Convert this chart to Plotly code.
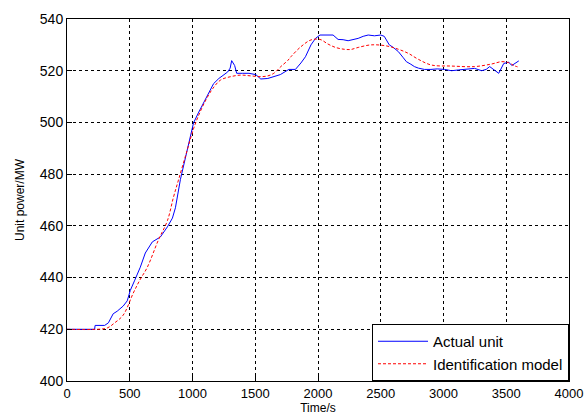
import plotly.graph_objects as go

# Actual unit (blue)
t_actual = [0, 220, 224, 300, 330, 368, 400, 448, 480, 504, 540, 584, 624, 680, 744, 800, 840, 864, 904,
            950, 1008, 1050, 1088, 1130, 1168, 1210, 1248, 1280, 1300, 1312, 1336, 1352, 1400, 1450, 1504,
            1544, 1600, 1648, 1700, 1768, 1820, 1864, 1900, 1944, 1980, 2016, 2080, 2120, 2160, 2200, 2240,
            2280, 2320, 2360, 2400, 2450, 2500, 2528, 2568, 2600, 2640, 2680, 2704, 2740, 2768, 2800, 2848,
            2900, 2950, 3008, 3064, 3120, 3180, 3248, 3304, 3340, 3368, 3400, 3440, 3480, 3520, 3544, 3570, 3600]
p_actual = [420, 420, 421.5, 421.5, 422.5, 426, 427, 429, 431, 435, 439, 444, 449.5, 453.8, 455.7, 459.6, 463, 467, 478,
            488, 499.8, 504, 507.5, 511, 515, 517, 518.3, 519.5, 521, 523.9, 522, 519, 519, 519, 518.5,
            516.8, 517, 517.7, 518.5, 520.5, 520.5, 523, 525.4, 530, 532.5, 533.8, 533.8, 533.8, 532.1, 532, 531.6,
            532, 532.5, 533.3, 533.8, 533.5, 533.8, 533.3, 530, 529, 527.4, 525, 523.5, 522.5, 521.6, 521, 520.5,
            520.5, 520.7, 520.5, 520, 520.3, 520.5, 520.9, 520, 520.5, 521.6, 520.3, 519, 522.8, 523.3, 522, 523, 523.8]

# Identification model (red dashed)
t_model = [0, 240, 320, 380, 448, 528, 580, 640, 728, 800, 848, 888, 950, 1008, 1060, 1110, 1160, 1224, 1304,
           1384, 1464, 1544, 1600, 1648, 1704, 1760, 1784, 1864, 1944, 2016, 2080, 2140, 2208, 2260, 2320,
           2424, 2544, 2640, 2720, 2800, 2904, 3064, 3248, 3384, 3464, 3520, 3560, 3590]
p_model = [420, 420, 420.5, 422.5, 425.5, 434, 439, 444, 454.5, 462, 471, 477.7, 488, 497.5, 504, 509, 513, 516.4, 517.7,
           518.3, 518, 517.7, 518, 519, 521.6, 524, 525.4, 529.3, 531.9, 532.1, 530.3, 529, 528.3, 528.2, 529,
           530, 529.6, 528.3, 526.7, 524.4, 522.2, 521.8, 521.6, 522.6, 523.5, 523.1, 522, 521.5]

x_ticks = [0, 500, 1000, 1500, 2000, 2500, 3000, 3500, 4000]
y_ticks = [400, 420, 440, 460, 480, 500, 520, 540]

FONT = "Liberation Sans, Arial"

fig = go.Figure()
fig.add_trace(go.Scatter(x=t_actual, y=p_actual, mode="lines", name="Actual unit",
                         line=dict(color="#0000ff", width=1)))
fig.add_trace(go.Scatter(x=t_model, y=p_model, mode="lines", name="Identification model",
                         line=dict(color="#ff0000", width=1, dash="3px,2px"), line_shape="spline"))

axis_common = dict(showline=True, linecolor="black", linewidth=1, mirror=True,
                   ticks="inside", ticklen=5, tickcolor="black", automargin=True,
                   showgrid=True, gridcolor="black", gridwidth=1, griddash="3px,3px",
                   zeroline=False, ticklabeloverflow="allow")

fig.update_xaxes(range=[0, 4000], tickvals=x_ticks,
                 tickfont=dict(family=FONT, size=13, color="black"),
                 title=dict(text="Time/s", standoff=6,
                            font=dict(family=FONT, size=12, color="black")), **axis_common)
fig.update_yaxes(range=[400, 540], tickvals=y_ticks,
                 tickfont=dict(family=FONT, size=14, color="black"),
                 title=dict(text="Unit power/MW", standoff=12,
                            font=dict(family=FONT, size=12, color="black")), **axis_common)

fig.update_layout(
    width=584, height=415,
    margin=dict(l=67, r=15, t=19, b=34, autoexpand=False),
    paper_bgcolor="white", plot_bgcolor="white",
    font=dict(family=FONT, size=12, color="black"),
    legend=dict(x=1, y=0, xanchor="right", yanchor="bottom", bgcolor="white",
                bordercolor="black", borderwidth=1, itemwidth=50,
                font=dict(family=FONT, size=15, color="black"),
                tracegroupgap=0),
    showlegend=True,
)

# remove the default body margin so the figure sits at the page origin
fig.write_html("out.html", config={"displayModeBar": False},
               post_script="document.body.style.margin='0';document.body.style.overflow='hidden';")
